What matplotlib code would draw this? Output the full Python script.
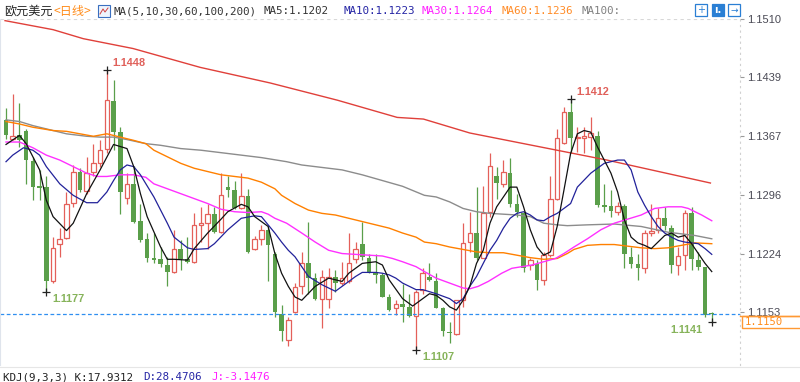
import numpy as np
import matplotlib
matplotlib.use('Agg')
import matplotlib.pyplot as plt
from matplotlib.patches import Rectangle

# daily EUR/USD candles (open, high, low, close), oldest first
opens = [1.1387, 1.1364, 1.1368, 1.1373, 1.1337, 1.1306, 1.1305, 1.1191, 1.1236, 1.1243,
         1.1286, 1.1324, 1.1300, 1.1324, 1.1334, 1.1351, 1.1410, 1.1372, 1.1292, 1.1309,
         1.1264, 1.1242, 1.1218, 1.1217, 1.1210, 1.1202, 1.1230, 1.1217, 1.1214, 1.1259,
         1.1261, 1.1272, 1.1250, 1.1305, 1.1301, 1.1279, 1.1294, 1.1229, 1.1242, 1.1253,
         1.1224, 1.1150, 1.1119, 1.1153, 1.1184, 1.1212, 1.1194, 1.1169, 1.1168, 1.1196,
         1.1188, 1.1190, 1.1217, 1.1236, 1.1219, 1.1201, 1.1198, 1.1171, 1.1158, 1.1162,
         1.1159, 1.1148, 1.1180, 1.1196, 1.1190, 1.1157, 1.1128, 1.1126, 1.1167, 1.1238,
         1.1249, 1.1219, 1.1275, 1.1318, 1.1309, 1.1322, 1.1284, 1.1273, 1.1210, 1.1211,
         1.1192, 1.1222, 1.1291, 1.1359, 1.1397, 1.1365, 1.1365, 1.1366, 1.1367, 1.1283,
         1.1282, 1.1275, 1.1282, 1.1220, 1.1211, 1.1206, 1.1249, 1.1253, 1.1267, 1.1255,
         1.1210, 1.1222, 1.1274, 1.1216, 1.1207, 1.1151]
highs = [1.1402, 1.1419, 1.1408, 1.1376, 1.1342, 1.1326, 1.1318, 1.1244, 1.1255, 1.1299,
         1.1332, 1.1328, 1.1342, 1.1358, 1.1362, 1.1448, 1.1436, 1.1378, 1.1322, 1.1331,
         1.1285, 1.1249, 1.1249, 1.1232, 1.1220, 1.1253, 1.1240, 1.1244, 1.1273, 1.1281,
         1.1285, 1.1281, 1.1322, 1.1318, 1.1313, 1.1322, 1.1303, 1.1246, 1.1259, 1.1257,
         1.1226, 1.1161, 1.1147, 1.1188, 1.1226, 1.1263, 1.1200, 1.1204, 1.1206, 1.1204,
         1.1214, 1.1249, 1.1238, 1.1262, 1.1224, 1.1224, 1.1200, 1.1175, 1.1167, 1.1187,
         1.1175, 1.1180, 1.1206, 1.1212, 1.1200, 1.1159, 1.1141, 1.1167, 1.1261, 1.1275,
         1.1305, 1.1306, 1.1346, 1.1330, 1.1338, 1.1341, 1.1297, 1.1275, 1.1218, 1.1216,
         1.1226, 1.1318, 1.1376, 1.1403, 1.1412, 1.1378, 1.1378, 1.1391, 1.1374, 1.1309,
         1.1301, 1.1287, 1.1285, 1.1232, 1.1224, 1.1253, 1.1284, 1.1279, 1.1281, 1.1259,
         1.1232, 1.1277, 1.1281, 1.1226, 1.1208, 1.1153]
lows = [1.1364, 1.1362, 1.1354, 1.1309, 1.1289, 1.1289, 1.1177, 1.1188, 1.1220, 1.1242,
        1.1281, 1.1299, 1.1297, 1.1318, 1.1330, 1.1346, 1.1350, 1.1272, 1.1285, 1.1261,
        1.1238, 1.1214, 1.1212, 1.1208, 1.1184, 1.1200, 1.1204, 1.1212, 1.1213, 1.1238,
        1.1230, 1.1249, 1.1249, 1.1293, 1.1278, 1.1278, 1.1225, 1.1228, 1.1234, 1.1190,
        1.1147, 1.1117, 1.1111, 1.1151, 1.1175, 1.1175, 1.1167, 1.1133, 1.1157, 1.1177,
        1.1186, 1.1188, 1.1212, 1.1216, 1.1200, 1.1188, 1.1171, 1.1154, 1.1149, 1.1141,
        1.1147, 1.1107, 1.1175, 1.1190, 1.1157, 1.1123, 1.1115, 1.1125, 1.1159, 1.1226,
        1.1216, 1.1218, 1.1269, 1.1291, 1.1305, 1.1281, 1.1269, 1.1202, 1.1204, 1.1180,
        1.1186, 1.1220, 1.1289, 1.1357, 1.1346, 1.1348, 1.1347, 1.1350, 1.1281, 1.1275,
        1.1269, 1.1271, 1.1206, 1.1206, 1.1192, 1.1200, 1.1246, 1.1249, 1.1253, 1.1200,
        1.1198, 1.1204, 1.1204, 1.1204, 1.1147, 1.1141]
closes = [1.1368, 1.1367, 1.1362, 1.1338, 1.1305, 1.1304, 1.1190, 1.1231, 1.1242, 1.1285,
          1.1324, 1.1302, 1.1322, 1.1334, 1.1350, 1.1411, 1.1372, 1.1299, 1.1309, 1.1263,
          1.1240, 1.1219, 1.1216, 1.1211, 1.1202, 1.1230, 1.1217, 1.1214, 1.1259, 1.1261,
          1.1272, 1.1250, 1.1296, 1.1302, 1.1279, 1.1294, 1.1226, 1.1242, 1.1253, 1.1235,
          1.1153, 1.1130, 1.1143, 1.1183, 1.1212, 1.1194, 1.1169, 1.1196, 1.1195, 1.1188,
          1.1194, 1.1212, 1.1230, 1.1220, 1.1202, 1.1198, 1.1171, 1.1155, 1.1162, 1.1159,
          1.1148, 1.1177, 1.1200, 1.1192, 1.1158, 1.1129, 1.1127, 1.1167, 1.1237, 1.1249,
          1.1218, 1.1273, 1.1331, 1.1310, 1.1323, 1.1284, 1.1275, 1.1206, 1.1216, 1.1192,
          1.1222, 1.1290, 1.1365, 1.1396, 1.1365, 1.1366, 1.1367, 1.1371, 1.1283, 1.1281,
          1.1276, 1.1282, 1.1223, 1.1211, 1.1206, 1.1249, 1.1251, 1.1267, 1.1257, 1.1210,
          1.1221, 1.1274, 1.1217, 1.1207, 1.1149, 1.1150]

# moving averages (candle number, value)
ma5_n = [1, 3, 4, 6, 7, 8, 10, 11, 13, 15, 17, 19, 20, 21, 22, 24, 25, 26, 28, 29, 31, 33, 34,
         36, 37, 38, 40, 41, 42, 43, 44, 45, 47, 49, 50, 51, 52, 54, 56, 57, 58, 60, 61.5, 63,
         64, 65, 66, 67, 68, 69, 70, 71, 72, 73, 74, 75, 76, 77, 78, 79, 80, 81, 82, 83, 84,
         85, 86, 87, 88, 89, 90, 91, 92, 93, 94, 95, 96, 97, 98, 99, 100, 101, 102, 103, 104,
         105, 106]
ma5 = [1.1357, 1.1368, 1.1358, 1.1326, 1.1289, 1.1269, 1.1252, 1.1261, 1.1297, 1.1326,
       1.1357, 1.1352, 1.1330, 1.1297, 1.1269, 1.1232, 1.1217, 1.1217, 1.1216, 1.1230,
       1.1249, 1.1266, 1.1275, 1.1284, 1.1281, 1.1269, 1.1257, 1.1224, 1.1200, 1.1184,
       1.1171, 1.1167, 1.1184, 1.1194, 1.1192, 1.1190, 1.1200, 1.1212, 1.1214, 1.1210,
       1.1192, 1.1169, 1.1160, 1.1169, 1.1175, 1.1173, 1.1167, 1.1159, 1.1155, 1.1167,
       1.1184, 1.1212, 1.1228, 1.1261, 1.1281, 1.1293, 1.1305, 1.1305, 1.1281, 1.1253,
       1.1232, 1.1222, 1.1226, 1.1257, 1.1301, 1.1346, 1.1370, 1.1374, 1.1372, 1.1354,
       1.1338, 1.1322, 1.1299, 1.1265, 1.1244, 1.1237, 1.1234, 1.1230, 1.1238, 1.1246,
       1.1249, 1.1244, 1.1246, 1.1236, 1.1224, 1.1212, 1.1202]

ma10_n = [1, 2, 3.6, 5, 6, 7, 9, 11, 13, 14.6, 16, 17, 18, 19, 20, 21, 23, 25, 26, 28, 29,
          31, 32, 34, 36, 38, 39, 41, 42, 43, 44, 45, 46, 48, 50, 51, 52, 53, 54, 56, 57, 58,
          59, 60, 61, 62, 63, 65, 67, 68, 69, 70, 71, 72, 73, 74, 75, 76, 77, 78, 79, 80, 81,
          82, 83, 84, 85, 86, 88, 90, 92, 93, 94, 95, 96, 97, 98, 99, 100, 101, 102, 103, 104,
          105, 106]
ma10 = [1.1336, 1.1344, 1.1353, 1.1350, 1.1344, 1.1330, 1.1309, 1.1295, 1.1286, 1.1286,
        1.1299, 1.1313, 1.1326, 1.1332, 1.1330, 1.1320, 1.1293, 1.1261, 1.1244, 1.1231,
        1.1229, 1.1230, 1.1236, 1.1253, 1.1267, 1.1270, 1.1269, 1.1249, 1.1238, 1.1228,
        1.1220, 1.1208, 1.1196, 1.1186, 1.1178, 1.1184, 1.1190, 1.1196, 1.1201, 1.1201,
        1.1200, 1.1198, 1.1194, 1.1188, 1.1184, 1.1180, 1.1180, 1.1175, 1.1169, 1.1163,
        1.1169, 1.1184, 1.1196, 1.1212, 1.1228, 1.1240, 1.1255, 1.1267, 1.1273, 1.1275,
        1.1271, 1.1265, 1.1264, 1.1269, 1.1273, 1.1279, 1.1285, 1.1305, 1.1322, 1.1334,
        1.1338, 1.1338, 1.1326, 1.1299, 1.1283, 1.1269, 1.1257, 1.1249, 1.1244, 1.1240,
        1.1238, 1.1237, 1.1236, 1.1230, 1.1223]

ma30_n = [1, 3, 5, 7, 9, 11, 13, 14.6, 16, 18, 20, 21.8, 23, 25, 27, 29, 31, 33, 35, 37, 39,
          40, 41, 42.75, 45, 47, 49, 51, 53, 55, 57, 58.5, 60, 62, 63.25, 65, 67, 69, 70,
          71.25, 72.75, 74.75, 76.25, 77.75, 79.25, 81, 82.75, 84, 85.5, 87.5, 89.5, 91.5,
          93.5, 95.5, 97.5, 99.5, 101.5, 102.5, 104.5, 106]
ma30 = [1.1360, 1.1360, 1.1353, 1.1344, 1.1338, 1.1330, 1.1322, 1.1318, 1.1318, 1.1320,
        1.1320, 1.1317, 1.1309, 1.1303, 1.1297, 1.1291, 1.1285, 1.1278, 1.1275, 1.1274,
        1.1275, 1.1272, 1.1267, 1.1261, 1.1249, 1.1238, 1.1228, 1.1224, 1.1223, 1.1222,
        1.1221, 1.1218, 1.1214, 1.1208, 1.1202, 1.1194, 1.1188, 1.1182, 1.1181, 1.1184,
        1.1190, 1.1200, 1.1206, 1.1208, 1.1210, 1.1214, 1.1218, 1.1224, 1.1232, 1.1242,
        1.1253, 1.1261, 1.1266, 1.1271, 1.1279, 1.1281, 1.1281, 1.1279, 1.1271, 1.1264]

ma60_n = [1, 3, 5, 8, 10, 12, 14, 16, 18, 20, 21.8, 23, 25, 27, 29, 31, 33, 35, 37, 39, 41,
          42, 44, 46, 48, 50, 52, 54, 56, 58, 60, 62, 63.25, 65, 67, 69, 71, 73, 75, 77, 79,
          81, 83, 84.5, 85.5, 87.5, 89.5, 91.5, 93.5, 95.5, 97.5, 99.5, 101.5, 103.5, 106]
ma60 = [1.1385, 1.1382, 1.1378, 1.1374, 1.1373, 1.1370, 1.1367, 1.1370, 1.1366, 1.1362,
        1.1358, 1.1350, 1.1342, 1.1334, 1.1328, 1.1324, 1.1320, 1.1318, 1.1316, 1.1311,
        1.1303, 1.1295, 1.1285, 1.1277, 1.1273, 1.1271, 1.1267, 1.1263, 1.1259, 1.1255,
        1.1249, 1.1244, 1.1238, 1.1236, 1.1232, 1.1229, 1.1226, 1.1225, 1.1225, 1.1222,
        1.1219, 1.1217, 1.1218, 1.1224, 1.1229, 1.1234, 1.1235, 1.1235, 1.1233, 1.1231,
        1.1230, 1.1231, 1.1234, 1.1237, 1.1236]

ma100_n = [1, 3, 5, 8, 10, 13, 15, 17, 19, 21.8, 24, 27, 30, 33, 36, 39, 42.75, 45, 48, 51,
           54, 57, 60, 63.25, 65, 67, 69, 71, 73, 75, 77, 79, 81, 83, 84.5, 87.5, 91.5, 95.5,
           99.5, 103.5, 106]
ma100 = [1.1387, 1.1385, 1.1380, 1.1374, 1.1370, 1.1367, 1.1366, 1.1366, 1.1363, 1.1358,
         1.1356, 1.1352, 1.1350, 1.1347, 1.1344, 1.1341, 1.1336, 1.1332, 1.1329, 1.1326,
         1.1320, 1.1313, 1.1306, 1.1295, 1.1293, 1.1287, 1.1279, 1.1275, 1.1273, 1.1272,
         1.1271, 1.1269, 1.1261, 1.1259, 1.1258, 1.1259, 1.1260, 1.1257, 1.1250, 1.1246,
         1.1242]

ma200_n = [0.85, 8, 12.5, 19.9, 29.9, 40.3, 50.3, 59.2, 63.1, 70, 80.5, 90.4, 105.8]
ma200 = [1.1508, 1.1497, 1.1486, 1.1474, 1.1451, 1.1432, 1.1411, 1.1390, 1.1388, 1.1371,
         1.1354, 1.1338, 1.1310]

ytick_vals = [1.1153, 1.1224, 1.1296, 1.1367, 1.1439, 1.1510]
last_price = 1.1150
# (candle number, price) for the marked extremes
marks_high = [(16, 1.1448), (85, 1.1412)]
marks_low = [(7, 1.1177), (62, 1.1107), (106, 1.1141)]

RED = '#e4605a'
GREEN = '#5a9f4a'
CJK = ['Noto Sans CJK SC', 'DejaVu Sans']
MONO = 'DejaVu Sans Mono'

fig = plt.figure(figsize=(8, 3.82), dpi=100)
fig.patch.set_facecolor('white')

# main price panel: x 0..740 px, y 19..365 px
ax = fig.add_axes([0, 1 - 365 / 382, 740 / 800, (365 - 19) / 382])
ax.set_xlim(-0.893, 109.2)
ax.set_ylim(1.10881, 1.15095)

o = np.array(opens)
h = np.array(highs)
l = np.array(lows)
c = np.array(closes)
idx = np.arange(len(o))
up = c >= o

ax.vlines(idx[up], l[up], h[up], color=RED, lw=0.9, zorder=1)
ax.vlines(idx[~up], l[~up], h[~up], color=GREEN, lw=0.9, zorder=1)
body_lo = np.minimum(o, c)
body_h = np.maximum(np.abs(c - o), 0.00004)
ax.bar(idx[up], body_h[up], bottom=body_lo[up], width=0.68, facecolor='white',
       edgecolor=RED, linewidth=0.9, zorder=2)
ax.bar(idx[~up], body_h[~up], bottom=body_lo[~up], width=0.68, color=GREEN,
       linewidth=0, zorder=2)

# moving averages
ma_lines = [
    (ma200_n, ma200, '#e0403a', 1.0),
    (ma100_n, ma100, '#8c8c8c', 1.0),
    (ma60_n, ma60, '#ff8000', 1.0),
    (ma30_n, ma30, '#ff30ff', 1.0),
    (ma10_n, ma10, '#22229a', 0.9),
    (ma5_n, ma5, '#111111', 0.9),
]
for n, vals, col, lw in ma_lines:
    ax.plot(np.array(n) - 1, vals, color=col, lw=lw, zorder=3)

# current price line and top grid line
ax.axhline(last_price, color='#2f8ff0', lw=0.9, ls=(0, (3, 2)), zorder=2.5)
ax.axhline(1.1510, color='#d8d8d8', lw=0.8, ls=(0, (3, 3)), zorder=0)

# high / low markers
for n, p in marks_high:
    ax.plot(n - 1, p, marker='+', color='#222222', ms=6, mew=0.9, zorder=4)
    ax.annotate(f'{p:.4f}', (n - 1, p), xytext=(6, 7), textcoords='offset pixels',
                ha='left', va='center', color='#e0605a', fontsize=7.8,
                fontweight='bold', family='Liberation Sans')
for n, p in marks_low:
    ax.plot(n - 1, p, marker='+', color='#222222', ms=6, mew=0.9, zorder=4)
    if n == len(o):
        ax.annotate(f'{p:.4f}', (n - 1, p), xytext=(-9, -8), textcoords='offset pixels',
                    ha='right', va='center', color='#86b35a', fontsize=7.8,
                    fontweight='bold', family='Liberation Sans')
    else:
        ax.annotate(f'{p:.4f}', (n - 1, p), xytext=(6, -7), textcoords='offset pixels',
                    ha='left', va='center', color='#86b35a', fontsize=7.8,
                    fontweight='bold', family='Liberation Sans')

# right price scale
ax.yaxis.tick_right()
ax.set_yticks(ytick_vals)
ax.set_yticklabels([f'{v:.4f}' for v in ytick_vals], family='Liberation Sans')
ax.tick_params(axis='y', direction='out', length=3, pad=2, labelsize=8,
               colors='#9a9a9a', labelcolor='#4a4a55')
ax.set_xticks([])
for side in ['top', 'bottom']:
    ax.spines[side].set_visible(False)
ax.spines['right'].set_color('#d0d0d0')
ax.spines['right'].set_linestyle((0, (1, 4)))
ax.spines['left'].set_color('#dfe4ec')
ax.set_facecolor('white')

# overlay in pixel coordinates for header, footer and price box
ov = fig.add_axes([0, 0, 1, 1], zorder=5)
ov.set_xlim(0, 800)
ov.set_ylim(382, 0)
ov.axis('off')
ov.patch.set_alpha(0)

ov.text(4, 11, '欧元美元', family=CJK, fontsize=8.7, va='center', color='#222222')
ov.text(53, 11, '<日线>', family=CJK, fontsize=8.7, va='center', color='#ff8c1a')
ov.add_patch(Rectangle((98, 5), 12, 12, facecolor='#eef4fc', edgecolor='#3a6fc0', lw=0.8))
ov.plot([100, 103, 105, 108], [14, 9, 12, 8], color='#d04040', lw=0.7)

header = [
    (113, 'MA(5,10,30,60,100,200)', '#333333'),
    (264, 'MA5:1.1202', '#333333'),
    (343, 'MA10:1.1223', '#2525a5'),
    (422, 'MA30:1.1264', '#ff20ff'),
    (502, 'MA60:1.1236', '#ff8c28'),
    (582, 'MA100:', '#808080'),
]
for x, s, col in header:
    ov.text(x, 11, s, family=MONO, fontsize=7.85, va='center', color=col)

# toolbar icons top right
ov.add_patch(Rectangle((695, 4), 12, 12, facecolor='white', edgecolor='#2a7fd4', lw=0.9))
ov.text(701, 10, '+', color='#2a7fd4', fontsize=7, ha='center', va='center')
ov.add_patch(Rectangle((712, 4), 12, 12, facecolor='#2a7fd4', edgecolor='#2a7fd4', lw=0.9))
ov.text(718, 10, 'ı.', color='white', fontsize=7, ha='center', va='center', fontweight='bold')
ov.add_patch(Rectangle((728, 4), 12, 12, facecolor='white', edgecolor='#2a7fd4', lw=0.9))
ov.text(734, 10, '→', color='#2a7fd4', fontsize=6.5, ha='center', va='center')

# last price box
ov.plot([740, 800], [315.5, 315.5], color='#ff9933', lw=1)
ov.add_patch(Rectangle((742, 315.5), 60, 12.5, facecolor='white', edgecolor='#ff9933', lw=1))
ov.text(745, 322, f'{last_price:.4f}', family=MONO, fontsize=7.6, va='center', color='#ff8c1a')

# footer: KDJ indicator line
ov.plot([0, 800], [366.5, 366.5], color='#e6e6e6', lw=0.8)
ov.text(3, 372.5, 'KDJ(9,3,3) K:17.9312', family=MONO, fontsize=7.85, va='top', color='#222222')
ov.text(143, 372.5, 'D:28.4706', family=MONO, fontsize=7.85, va='top', color='#2525a5')
ov.text(211, 372.5, 'J:-3.1476', family=MONO, fontsize=7.85, va='top', color='#ff20ff')

fig.savefig('out.png', dpi=100, facecolor='white')
